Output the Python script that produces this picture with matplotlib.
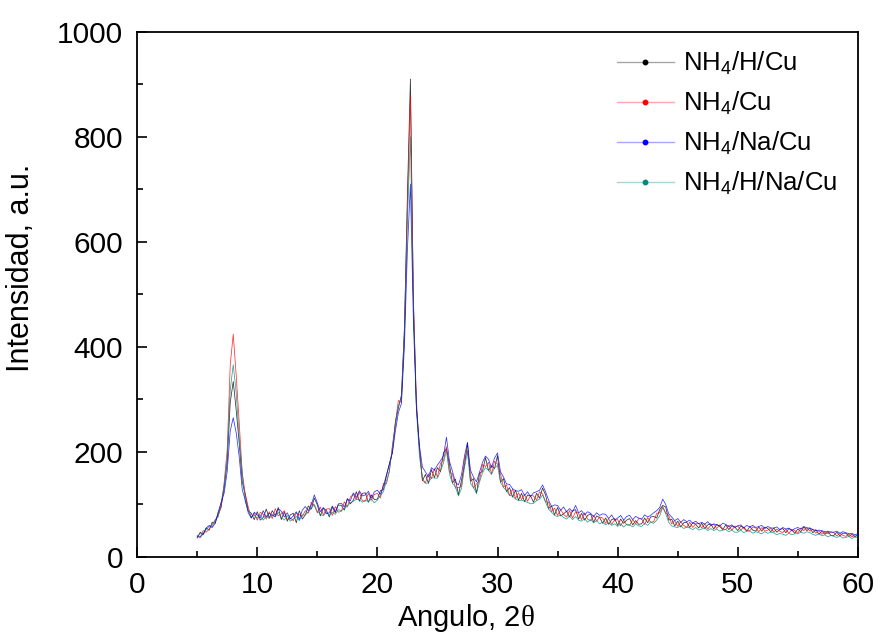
import numpy as np
import matplotlib
matplotlib.use("Agg")
import matplotlib.pyplot as plt
from matplotlib.lines import Line2D
from matplotlib.ticker import MultipleLocator

plt.rcParams['font.family'] = ['Liberation Sans', 'DejaVu Sans']
plt.rcParams['mathtext.fontset'] = 'custom'
plt.rcParams['mathtext.rm'] = 'Liberation Sans'
plt.rcParams['mathtext.it'] = 'Liberation Sans:italic'
plt.rcParams['mathtext.sf'] = 'Liberation Serif'
plt.rcParams['mathtext.default'] = 'regular'

# 2-theta grid: 5 to 60 degrees, 0.25 step
two_theta = np.linspace(5, 60, 221)

labels = ["NH$_4$/H/Cu", "NH$_4$/Cu", "NH$_4$/Na/Cu", "NH$_4$/H/Na/Cu"]
colors = ["#000000", "#ff0000", "#0000ff", "#008b80"]

nh4_h_cu = [
    36, 47, 43, 55,   51, 66, 64, 83,   97, 132, 181, 294,   334, 279, 216, 143,
    119, 88, 83, 71,   86, 70, 75, 91,   74, 88, 79, 94,   71, 86, 68, 80,
    83, 65, 88, 72,   80, 97, 91, 112,   99, 78, 93, 89,   76, 95, 84, 99,
    98, 89, 111, 101,   108, 124, 106, 121,   122, 104, 118, 109,   110, 126, 128, 154,
    176, 199, 257, 284,   308, 436, 690, 910,   488, 284, 207, 145,   157, 140, 166, 151,
    170, 162, 198, 206,   176, 141, 148, 118,   146, 174, 217, 144,   149, 121, 159, 163,
    189, 164, 174, 168,   193, 142, 149, 124,   132, 114, 127, 108,   121, 105, 118, 116,
    104, 121, 112, 131,   118, 92, 97, 80,   94, 78, 82, 87,   76, 88, 90, 72,
    83, 70, 79, 82,   66, 78, 75, 64,   74, 62, 71, 73,   60, 72, 64, 70,
    73, 61, 69, 62,   63, 74, 65, 76,   77, 74, 90, 98,   95, 70, 72, 59,
    68, 57, 65, 66,   56, 65, 62, 55,   64, 54, 61, 63,   53, 62, 58, 52,
    61, 52, 59, 57,   50, 59, 55, 49,   58, 51, 49, 57,   49, 57, 54, 48,
    55, 47, 52, 54,   46, 54, 51, 45,   53, 48, 57, 50,   55, 46, 52, 43,
    49, 43, 48, 41,   41, 47, 40, 45,   45, 39, 43, 38,   42,
]

nh4_cu = [
    41, 38, 50, 47,   53, 62, 70, 79,   94, 143, 205, 365,   424, 345, 255, 160,
    120, 95, 74, 83,   70, 85, 81, 72,   86, 73, 92, 78,   82, 88, 71, 74,
    69, 84, 80, 77,   88, 83, 104, 98,   84, 95, 80, 91,   92, 79, 96, 85,
    87, 105, 95, 114,   119, 109, 123, 107,   106, 121, 108, 119,   121, 112, 140, 139,
    163, 212, 256, 298,   294, 428, 668, 880,   486, 297, 206, 146,   141, 158, 149, 168,
    152, 178, 184, 210,   162, 158, 131, 132,   134, 186, 203, 157,   131, 139, 145, 176,
    172, 180, 158, 182,   177, 158, 133, 137,   117, 129, 111, 122,   109, 119, 106, 117,
    116, 108, 124, 120,   105, 104, 86, 93,   79, 90, 81, 76,   88, 74, 86, 83,
    71, 84, 72, 69,   79, 68, 76, 74,   64, 73, 62, 70,   71, 59, 70, 61,
    60, 71, 63, 73,   72, 62, 75, 66,   67, 83, 84, 96,   84, 79, 63, 69,
    58, 67, 60, 56,   66, 56, 63, 64,   55, 63, 53, 60,   62, 54, 61, 53,
    52, 60, 51, 58,   59, 51, 57, 50,   50, 57, 55, 48,   56, 49, 51, 55,
    47, 53, 49, 46,   53, 45, 52, 50,   45, 55, 50, 56,   49, 53, 45, 50,
    43, 47, 44, 48,   46, 40, 45, 41,   39, 44, 38, 42,   40,
]

nh4_na_cu = [
    39, 37, 44, 55,   60, 56, 64, 86,   104, 122, 163, 240,   265, 236, 190, 128,
    108, 84, 74, 85,   80, 74, 88, 76,   83, 79, 77, 92,   87, 76, 84, 72,
    78, 86, 71, 89,   96, 88, 99, 118,   103, 86, 94, 82,   84, 97, 86, 101,
    102, 95, 110, 107,   122, 113, 126, 116,   118, 125, 112, 124,   127, 119, 135, 156,
    178, 198, 240, 275,   292, 400, 585, 710,   445, 285, 212, 171,   162, 152, 170, 165,
    175, 183, 192, 228,   182, 163, 142, 137,   156, 192, 218, 165,   152, 143, 161, 180,
    192, 186, 170, 188,   198, 162, 152, 139,   138, 130, 126, 125,   128, 117, 124, 115,
    122, 124, 127, 137,   124, 108, 96, 99,   98, 89, 95, 86,   92, 86, 98, 84,
    88, 80, 86, 83,   77, 84, 79, 82,   81, 73, 80, 70,   74, 79, 70, 77,
    79, 71, 77, 74,   72, 80, 76, 79,   84, 88, 94, 110,   100, 82, 76, 69,
    73, 66, 71, 67,   70, 64, 68, 63,   66, 62, 67, 60,   63, 61, 59, 64,
    62, 58, 61, 56,   59, 61, 55, 60,   57, 60, 56, 58,   60, 54, 58, 55,
    55, 57, 52, 56,   53, 55, 50, 54,   56, 53, 58, 55,   55, 52, 50, 51,
    50, 48, 49, 47,   47, 49, 45, 48,   46, 44, 45, 42,   44,
]

nh4_h_na_cu = [
    37, 45, 42, 52,   58, 57, 71, 76,   105, 136, 190, 318,   366, 312, 226, 160,
    106, 88, 76, 79,   74, 80, 70, 78,   73, 81, 76, 85,   76, 70, 79, 68,
    72, 77, 69, 80,   80, 86, 92, 100,   87, 81, 78, 86,   79, 85, 81, 90,
    88, 92, 97, 103,   106, 110, 109, 104,   108, 105, 110, 103,   108, 117, 124, 145,
    164, 208, 250, 288,   302, 420, 640, 800,   472, 280, 192, 150,   140, 141, 151, 150,
    150, 163, 179, 202,   158, 140, 133, 116,   130, 170, 200, 140,   132, 121, 142, 160,
    170, 165, 157, 170,   174, 142, 132, 126,   117, 116, 110, 107,   108, 106, 104, 101,
    102, 107, 110, 118,   104, 91, 85, 79,   77, 80, 75, 72,   78, 71, 77, 70,
    68, 73, 66, 71,   65, 69, 63, 66,   61, 65, 60, 63,   58, 63, 57, 62,
    61, 57, 63, 59,   58, 64, 60, 66,   64, 70, 78, 94,   82, 66, 59, 57,
    56, 59, 54, 57,   55, 52, 56, 51,   53, 55, 50, 54,   50, 53, 49, 51,
    52, 48, 51, 47,   47, 51, 46, 49,   49, 45, 48, 46,   44, 48, 45, 47,
    46, 42, 45, 43,   41, 45, 42, 44,   44, 47, 45, 48,   46, 43, 41, 44,
    40, 42, 38, 41,   39, 37, 40, 36,   37, 39, 35, 38,   36,
]

series = [nh4_h_cu, nh4_cu, nh4_na_cu, nh4_h_na_cu]
zorders = [2, 3, 5, 4]

fig = plt.figure(figsize=(8.79, 6.35), dpi=100)
ax = fig.add_axes([0.156, 0.123, 0.820, 0.827])

for vals, c, z in zip(series, colors, zorders):
    ax.plot(two_theta, vals, color=c, lw=0.55, alpha=0.8, zorder=z)

ax.set_xlim(0, 60)
ax.set_ylim(0, 1000)
ax.xaxis.set_major_locator(MultipleLocator(10))
ax.xaxis.set_minor_locator(MultipleLocator(5))
ax.yaxis.set_major_locator(MultipleLocator(200))
ax.yaxis.set_minor_locator(MultipleLocator(100))
ax.tick_params(which='both', direction='in', top=False, right=False, labelsize=21.5, width=1.2)
ax.tick_params(which='major', length=7)
ax.tick_params(which='minor', length=4)
ax.tick_params(axis='x', which='major', pad=10)
ax.tick_params(axis='y', which='major', pad=10)
for s in ax.spines.values():
    s.set_linewidth(1.3)

ax.set_xlabel(r"Angulo, 2$\mathsf{\theta}$", fontsize=21)
ax.set_ylabel("Intensidad, a.u.", fontsize=22)
ax.xaxis.set_label_coords(0.456, -0.086)
ax.yaxis.set_label_coords(-0.14, 0.55)

handles = []
for c in colors:
    rgb = matplotlib.colors.to_rgb(c)
    handles.append(Line2D([], [], color=(*rgb, 0.35), lw=1.0, marker='o', markersize=3.2,
                          markerfacecolor=c, markeredgecolor=c))
ax.legend(handles, labels, loc='upper left', frameon=False, fontsize=18.5,
          handlelength=2.2, handletextpad=0.35, labelspacing=0.5,
          borderpad=0, borderaxespad=0,
          bbox_to_anchor=(0.666, 0.966))

fig.savefig("out.png", dpi=100)
